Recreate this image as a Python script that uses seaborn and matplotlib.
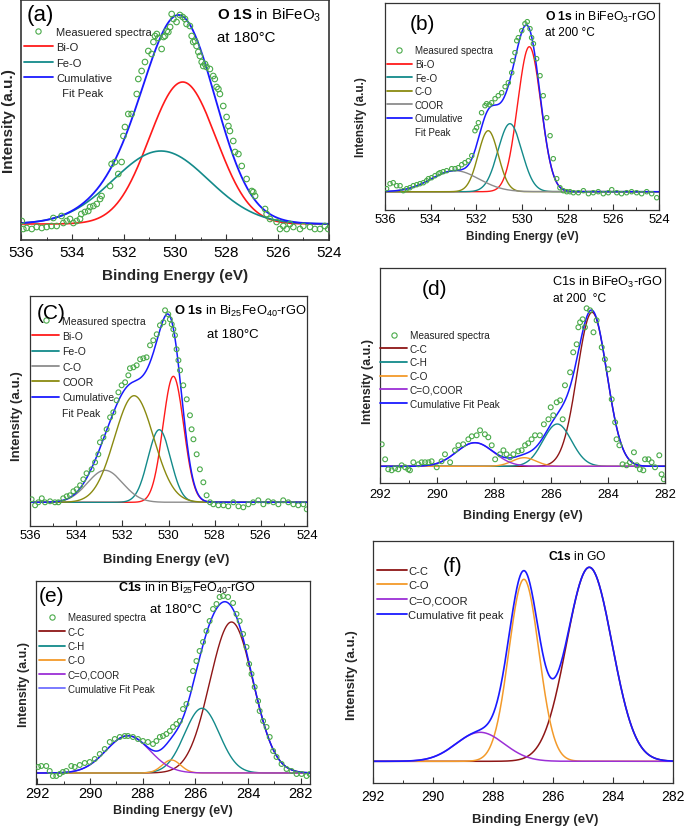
import numpy as np
import pandas as pd
import matplotlib
matplotlib.use("Agg")
import matplotlib.pyplot as plt
import seaborn as sns
from matplotlib.lines import Line2D
from matplotlib.ticker import MultipleLocator

sns.set_theme(style="white")
plt.rcParams['font.family'] = ['Liberation Sans', 'DejaVu Sans']
plt.rcParams['mathtext.fontset'] = 'custom'
plt.rcParams['mathtext.rm'] = 'Liberation Sans'
plt.rcParams['mathtext.it'] = 'Liberation Sans:italic'
plt.rcParams['mathtext.bf'] = 'Liberation Sans:bold'

# ---------------------------------------------------------------- data
# (a) O 1S in BiFeO3 at 180 C
a_meas_E = [535.97, 535.91, 535.78, 535.58, 535.39, 535.19, 535.00, 534.81, 534.74, 534.61,
            534.42, 534.35, 534.22, 534.09, 533.96, 533.83, 533.70, 533.65, 533.51, 533.38,
            533.31, 533.18, 533.05, 532.92, 532.86, 532.53, 532.47, 532.34, 532.21, 532.08,
            532.01, 531.95, 531.82, 531.69, 531.49, 531.43, 531.30, 531.17, 531.04, 530.91,
            530.84, 530.78, 530.71, 530.65, 530.52, 530.45, 530.39, 530.32, 530.26, 530.19,
            530.13, 530.06, 529.94, 529.81, 529.70, 529.61, 529.55, 529.42, 529.35, 529.29,
            529.22, 529.16, 529.09, 529.03, 528.96, 528.90, 528.83, 528.77, 528.64, 528.51,
            528.45, 528.38, 528.31, 528.25, 528.12, 527.99, 527.92, 527.86, 527.73, 527.66,
            527.53, 527.40, 527.21, 527.01, 526.95, 526.88, 526.49, 526.43, 526.30, 526.04,
            525.91, 525.78, 525.65, 525.52, 525.39, 525.13, 525.00, 524.74, 524.55, 524.35,
            524.16, 524.03]
a_meas_I = [3, -5, -4, -5, -3, -4, -3, -2, 6, -2,
            8, 1, 3, 5, 1, 3, 5, 10, 12, 13,
            17, 18, 20, 25, 28, 38, 60, 62, 50, 62,
            88, 97, 110, 110, 130, 145, 153, 162, 173, 170,
            182, 188, 190, 186, 175, 187, 188, 193, 192, 197,
            210, 205, 202, 209, 207, 205, 200, 198, 188, 182,
            183, 178, 172, 168, 162, 158, 160, 157, 155, 148,
            145, 137, 135, 130, 118, 107, 98, 93, 83, 72,
            70, 58, 45, 33, 32, 28, 15, 10, 5, 2,
            -5, -2, -5, 0, -3, -5, -2, -3, -5, -5,
            -2, -5]
a_names = ["Bi-O", "Fe-O"]
a_center = [529.70, 530.55]
a_height = [142, 73]
a_sigma = [1.30, 1.85]

# (b) O 1s in BiFeO3-rGO at 200 C
b_meas_E = [535.93, 535.78, 535.64, 535.49, 535.34, 535.20, 535.05, 534.91, 534.76, 534.61,
            534.47, 534.32, 534.18, 534.10, 533.96, 533.81, 533.66, 533.59, 533.45, 533.30,
            533.08, 532.93, 532.79, 532.64, 532.50, 532.35, 532.20, 532.06, 531.99, 531.91,
            531.77, 531.62, 531.55, 531.43, 531.33, 531.18, 531.04, 530.89, 530.74, 530.60,
            530.45, 530.41, 530.31, 530.23, 530.16, 530.01, 529.87, 529.77, 529.65, 529.58,
            529.50, 529.36, 529.21, 529.07, 528.92, 528.77, 528.63, 528.48, 528.34, 528.19,
            528.04, 527.90, 527.75, 527.53, 527.31, 527.09, 526.88, 526.66, 526.44, 526.22,
            526.07, 525.85, 525.64, 525.42, 525.20, 524.98, 524.76, 524.54, 524.32, 524.10]
b_meas_I = [3, 8, 9, 6, 6, 1, 3, 4, 6, 7,
            8, 9, 11, 13, 14, 16, 18, 19, 20, 21,
            23, 23, 24, 27, 29, 31, 36, 61, 64, 69,
            79, 86, 88, 87, 89, 93, 96, 99, 105, 109,
            119, 131, 139, 151, 154, 161, 168, 170, 163, 154,
            148, 133, 116, 96, 74, 56, 33, 13, 4, 1,
            0, 0, -1, -1, 1, -2, -1, 0, -2, -1,
            2, -1, -2, -1, 0, -1, -2, 0, -2, -6]
b_names = ["Bi-O", "Fe-O", "C-O", "COOR"]
b_center = [529.68, 530.53, 531.48, 532.93]
b_height = [145, 68, 61, 21]
b_sigma = [0.51, 0.52, 0.44, 1.05]

# (c) O 1s in Bi25FeO40-rGO at 180 C
c_meas_E = [535.93, 535.78, 535.64, 535.49, 535.35, 535.13, 534.92, 534.77, 534.56, 534.41,
            534.27, 534.12, 533.98, 533.83, 533.69, 533.55, 533.33, 533.18, 533.04, 532.97,
            532.82, 532.68, 532.53, 532.39, 532.25, 532.17, 532.03, 531.88, 531.74, 531.67,
            531.52, 531.38, 531.23, 531.09, 530.95, 530.80, 530.66, 530.51, 530.37, 530.22,
            530.15, 530.01, 529.94, 529.86, 529.79, 529.72, 529.65, 529.57, 529.50, 529.36,
            529.21, 529.07, 529.00, 528.92, 528.78, 528.64, 528.49, 528.35, 528.20, 528.06,
            527.84, 527.62, 527.41, 527.19, 526.97, 526.76, 526.54, 526.33, 526.11, 525.89,
            525.68, 525.46, 525.24, 525.03, 524.81, 524.59, 524.38, 524.16, 524.01]
c_meas_I = [3, -3, 0, 4, 0, 1, 0, 0, 4, 6,
            7, 11, 13, 17, 23, 29, 33, 40, 48, 60,
            65, 73, 85, 90, 102, 110, 117, 120, 127, 134,
            135, 137, 143, 144, 145, 157, 162, 168, 177, 180,
            192, 188, 183, 178, 173, 167, 153, 142, 132, 117,
            103, 87, 73, 63, 48, 33, 20, 7, 0, -2,
            -3, -3, -4, 0, -4, -5, -2, 0, 2, -2,
            1, 0, -2, 2, 0, -2, -3, -2, -7]
c_names = ["Bi-O", "Fe-O", "C-O", "COOR"]
c_center = [529.79, 530.40, 532.75, 531.49]
c_height = [126, 72.6, 32, 106.6]
c_sigma = [0.45, 0.49, 0.76, 0.85]

# (d) C1s in BiFeO3-rGO at 200 C
d_meas_E = [291.94, 291.82, 291.71, 291.59, 291.47, 291.36, 291.24, 291.12, 291.01, 290.95,
            290.83, 290.65, 290.54, 290.42, 290.30, 290.19, 290.01, 289.84, 289.72, 289.54,
            289.37, 289.25, 289.08, 288.90, 288.78, 288.61, 288.49, 288.32, 288.20, 288.08,
            287.96, 287.79, 287.67, 287.56, 287.44, 287.32, 287.15, 287.03, 286.91, 286.80,
            286.68, 286.56, 286.39, 286.25, 286.09, 286.01, 285.92, 285.80, 285.68, 285.59,
            285.51, 285.33, 285.22, 285.10, 285.04, 284.98, 284.89, 284.81, 284.75, 284.63,
            284.51, 284.40, 284.22, 284.11, 283.99, 283.87, 283.75, 283.70, 283.60, 283.49,
            283.35, 283.23, 283.09, 282.99, 282.88, 282.76, 282.70, 282.58, 282.47, 282.35,
            282.20, 282.12, 282.04]
d_meas_I = [22, 7, -3, -4, -2, -3, 1, -1, -3, -4,
            4, 2, 4, 4, 4, 5, -1, 5, 12, 4,
            16, 21, 22, 27, 30, 31, 36, 32, 29, 21,
            7, 12, 16, 12, 9, 12, 15, 16, 21, 23,
            27, 31, 31, 42, 47, 59, 51, 64, 66, 47,
            81, 94, 114, 122, 139, 144, 147, 139, 158, 156,
            134, 146, 119, 107, 97, 67, 44, 27, 21, 2,
            1, 4, 14, 1, -3, -4, 7, 7, 4, -1,
            11, -8, -13]
d_names = ["C-C", "C-H", "C-O", "C=O,COOR"]
d_center = [284.56, 285.78, 286.94, 288.67]
d_height = [154, 42.3, 8.6, 23.6]
d_sigma = [0.52, 0.50, 0.42, 0.65]

# (e) C1s in Bi25FeO40-rGO at 180 C
e_meas_E = [291.97, 291.85, 291.66, 291.53, 291.41, 291.28, 291.15, 291.03, 290.90, 290.71,
            290.58, 290.39, 290.20, 290.01, 289.82, 289.63, 289.44, 289.25, 289.06, 288.87,
            288.68, 288.56, 288.37, 288.18, 287.99, 287.80, 287.61, 287.48, 287.35, 287.23,
            287.10, 286.97, 286.85, 286.72, 286.59, 286.47, 286.34, 286.22, 286.09, 285.96,
            285.84, 285.71, 285.58, 285.46, 285.33, 285.20, 285.08, 284.95, 284.76, 284.57,
            284.44, 284.32, 284.19, 284.06, 283.96, 283.87, 283.75, 283.62, 283.56, 283.43,
            283.30, 283.18, 283.05, 282.92, 282.73, 282.54, 282.35, 282.16, 281.97, 281.78,
            281.66]
e_meas_I = [6, 7, 7, 2, -3, -3, -1, 1, 2, 7,
            6, 8, 10, 11, 14, 19, 24, 31, 34, 36,
            37, 37, 36, 34, 32, 31, 29, 32, 36, 37,
            39, 42, 46, 49, 52, 64, 69, 84, 102, 112,
            122, 131, 142, 152, 164, 169, 176, 177, 176, 170,
            159, 152, 139, 126, 109, 99, 86, 72, 62, 52,
            46, 36, 22, 16, 9, 4, 2, -1, -1, -3,
            -1]
e_names = ["C-C", "C-H", "C-O", "C=O,COOR"]
e_center = [284.63, 285.75, 286.91, 288.56]
e_height = [151, 64.7, 13, 37.3]
e_sigma = [0.82, 0.66, 0.35, 0.83]

# (f) C1s in GO
f_names = ["C-C", "C-O", "C=O,COOR"]
f_center = [284.79, 286.97, 288.43]
f_height = [194, 182, 29]
f_sigma = [0.76, 0.50, 0.80]

# ---------------------------------------------------------------- styling
W, H = 685, 829
GREEN = "#4aaa4a"
RED = "#ff1a1a"
TEAL = "#138a8a"
BLUE = "#1a1aff"
OLIVE = "#8a8a10"
GRAY = "#8c8c8c"
DRED = "#8e1616"
ORANGE = "#f39a2a"
PURPLE = "#9b2fd6"
SPINE = "#333333"

fig = plt.figure(figsize=(W / 100, H / 100), dpi=100)


def fx(px):
    return px / W


def fy(py):
    return 1 - py / H


def make_ax(l, t, r, b):
    return fig.add_axes([fx(l), fy(b), (r - l) / W, (b - t) / H])


def gauss(E, c, h, s):
    return h * np.exp(-0.5 * ((E - c) / s) ** 2)


def draw(ax, xlim, ylim, names, centers, heights, sigmas, colors, meas_E=None, meas_I=None,
         lw=1.0, ms=10, tick_fs=9.4, tick_pad=3, spine_lw=0.9):
    grid = np.linspace(min(xlim), max(xlim), 900)
    frames = [pd.DataFrame({"E": grid, "I": gauss(grid, c, h, s), "comp": n})
              for n, c, h, s in zip(names, centers, heights, sigmas)]
    comp = pd.concat(frames, ignore_index=True)
    sns.lineplot(data=comp, x="E", y="I", hue="comp", hue_order=names,
                 palette=dict(zip(names, colors)), legend=False, ax=ax, lw=lw)
    cum = comp.groupby("E", as_index=False)["I"].sum()
    sns.lineplot(data=cum, x="E", y="I", color=BLUE, ax=ax, lw=lw * 1.1)
    if meas_E is not None:
        sns.scatterplot(x=meas_E, y=meas_I, marker="o", s=ms, facecolor="none",
                        edgecolor=GREEN, linewidth=0.8, ax=ax, zorder=3)
    ax.set_xlim(*xlim)
    ax.set_ylim(*ylim)
    ax.set_yticks([])
    ax.xaxis.set_major_locator(MultipleLocator(2))
    ax.xaxis.set_minor_locator(MultipleLocator(1))
    ax.tick_params(axis="x", which="both", direction="in", bottom=True, top=False,
                   colors=SPINE, labelcolor="black", labelsize=tick_fs, pad=tick_pad)
    ax.tick_params(axis="x", which="major", length=4, width=0.8)
    ax.tick_params(axis="x", which="minor", length=2.5, width=0.7)
    for sp in ax.spines.values():
        sp.set_color(SPINE)
        sp.set_linewidth(spine_lw)
    ax.set_xlabel("")
    ax.set_ylabel("")


def labels(ax, xl_cx, xl_top, yl_right, yl_cy, fs):
    ax.set_xlabel("Binding Energy (eV)", fontsize=fs, fontweight="bold")
    ax.set_ylabel("Intensity (a.u.)", fontsize=fs, fontweight="bold")
    ax.xaxis.set_label_coords(fx(xl_cx), fy(xl_top), transform=fig.transFigure)
    ax.yaxis.set_label_coords(fx(yl_right), fy(yl_cy), transform=fig.transFigure)


def legend(ax, entries, x, top, fs, hl, htp, ls):
    handles, labs = [], []
    for kind, col, lab in entries:
        if kind == "m":
            handles.append(Line2D([], [], ls="none", marker="o", mfc="none", mec=col, ms=3.8, mew=0.8))
        elif kind == "l":
            handles.append(Line2D([], [], color=col, lw=1.3))
        else:
            handles.append(Line2D([], [], color="none", lw=0))
        labs.append(lab)
    lg = ax.legend(handles, labs, loc="upper left", bbox_to_anchor=(fx(x), fy(top)),
                   bbox_transform=fig.transFigure, frameon=False, fontsize=fs,
                   borderpad=0, borderaxespad=0, handlelength=hl, handletextpad=htp,
                   labelspacing=ls)
    for t in lg.get_texts():
        t.set_color("#222222")


def txt(x, y, s, fs, **kw):
    fig.text(fx(x), fy(y), s, fontsize=fs, ha=kw.pop("ha", "left"), va="center", color="black", **kw)


# ---------------------------------------------------------------- (a)
ax = make_ax(21, 1, 329, 241)
draw(ax, (536, 524), (-16, 224), a_names, a_center, a_height, a_sigma, [RED, TEAL],
     a_meas_E, a_meas_I, lw=1.2, ms=16, tick_fs=11, tick_pad=3.5, spine_lw=1.2)
labels(ax, 175, 269, 16, 121, 11)
legend(ax, [("m", GREEN, "Measuered spectra"), ("l", RED, "Bi-O"), ("l", TEAL, "Fe-O"),
            ("l", BLUE, "Cumulative"), ("n", None, "  Fit Peak")],
       24, 27.7, 8, 2.6, 0.27, 0.49)
txt(27, 16, "(a)", 16)
txt(217, 15, r"$\mathbf{O\ 1S}$ in BiFeO$_3$", 10.8)
txt(217, 38, "at 180°C", 10.8)

# ---------------------------------------------------------------- (b)
ax = make_ax(385, 4, 659, 211)
draw(ax, (536, 524), (-18.3, 188.7), b_names, b_center, b_height, b_sigma,
     [RED, TEAL, OLIVE, GRAY], b_meas_E, b_meas_I, lw=1.0, ms=10, tick_fs=9.4, tick_pad=2.5)
labels(ax, 522, 231, 367.5, 117, 8.5)
legend(ax, [("m", GREEN, "Measured spectra"), ("l", RED, "Bi-O"), ("l", TEAL, "Fe-O"),
            ("l", OLIVE, "C-O"), ("l", GRAY, "COOR"), ("l", BLUE, "Cumulative"),
            ("n", None, "Fit Peak")],
       387, 46.4, 7, 2.57, 0.3, 0.37)
txt(410, 24, "(b)", 15)
txt(545, 17, r"$\mathbf{O\ 1s}$ in BiFeO$_3$-rGO", 8.8)
txt(545, 33, "at 200 °C", 8.6)

# ---------------------------------------------------------------- (c)
ax = make_ax(30, 297, 307, 527)
draw(ax, (536, 524), (-23.7, 206.3), c_names, c_center, c_height, c_sigma,
     [RED, TEAL, GRAY, OLIVE], c_meas_E, c_meas_I, lw=1.0, ms=12, tick_fs=9.4, tick_pad=2.5)
labels(ax, 166.5, 554, 23.5, 416, 9.5)
legend(ax, [("m", GREEN, "Measured spectra"), ("l", RED, "Bi-O"), ("l", TEAL, "Fe-O"),
            ("l", GRAY, "C-O"), ("l", OLIVE, "COOR"), ("l", BLUE, "Cumulative"),
            ("n", None, "Fit Peak")],
       32, 316.7, 7.5, 2.6, 0.29, 0.51)
txt(37, 314, "(C)", 15)
txt(174, 311.7, r"$\mathbf{O\ 1s}$ in Bi$_{25}$FeO$_{40}$-rGO", 9.3)
txt(207, 335, "at 180°C", 9.5)

# ---------------------------------------------------------------- (d)
ax = make_ax(380, 269, 665, 484)
draw(ax, (292, 282), (-16.7, 198.3), d_names, d_center, d_height, d_sigma,
     [DRED, TEAL, ORANGE, PURPLE], d_meas_E, d_meas_I, lw=1.0, ms=12, tick_fs=9.4, tick_pad=3.5)
labels(ax, 522.5, 510, 373.5, 382, 9)
legend(ax, [("m", GREEN, "Measured spectra"), ("l", DRED, "C-C"), ("l", TEAL, "C-H"),
            ("l", ORANGE, "C-O"), ("l", PURPLE, "C=O,COOR"), ("l", BLUE, "Cumulative Fit Peak")],
       380, 331, 7.2, 2.7, 0.3, 0.37)
txt(422, 290, "(d)", 15)
txt(552, 282.7, r"C1s in BiFeO$_3$-rGO", 9.2)
txt(553, 299, "at 200  °C", 8.6)

# ---------------------------------------------------------------- (e)
ax = make_ax(36, 582, 310, 785)
draw(ax, (292.05, 281.65), (-11, 192), e_names, e_center, e_height, e_sigma,
     [DRED, TEAL, ORANGE, PURPLE], e_meas_E, e_meas_I, lw=1.0, ms=12, tick_fs=10.5, tick_pad=1.5)
labels(ax, 172.5, 805.5, 30.5, 685, 9)
legend(ax, [("m", GREEN, "Measured spectra"), ("l", DRED, "C-C"), ("l", TEAL, "C-H"),
            ("l", ORANGE, "C-O"), ("l", PURPLE, "C=O,COOR"), ("l", "#7070ff", "Cumulative Fit Peak")],
       39, 613.4, 7, 2.67, 0.3, 0.44)
txt(39, 596, "(e)", 15)
txt(118, 588, r"$\mathbf{C1s}$ in in Bi$_{25}$FeO$_{40}$-rGO", 9)
txt(150, 610, "at 180°C", 9.5)

# ---------------------------------------------------------------- (f)
ax = make_ax(373, 542, 673, 784)
draw(ax, (292, 282), (-21.7, 220.3), f_names, f_center, f_height, f_sigma,
     [DRED, ORANGE, PURPLE], None, None, lw=1.1, tick_fs=10, tick_pad=4)
labels(ax, 535, 814.5, 357.5, 675, 9.5)
legend(ax, [("l", DRED, "C-C"), ("l", ORANGE, "C-O"), ("l", PURPLE, "C=O,COOR"),
            ("l", BLUE, "Cumulative fit peak")],
       377, 566.7, 8, 2.7, 0.1, 0.42)
txt(443, 566, "(f)", 15)
txt(577, 557, r"$\mathbf{C1s}$ in GO", 8.7, ha="center")

fig.savefig("out.png", dpi=100)
